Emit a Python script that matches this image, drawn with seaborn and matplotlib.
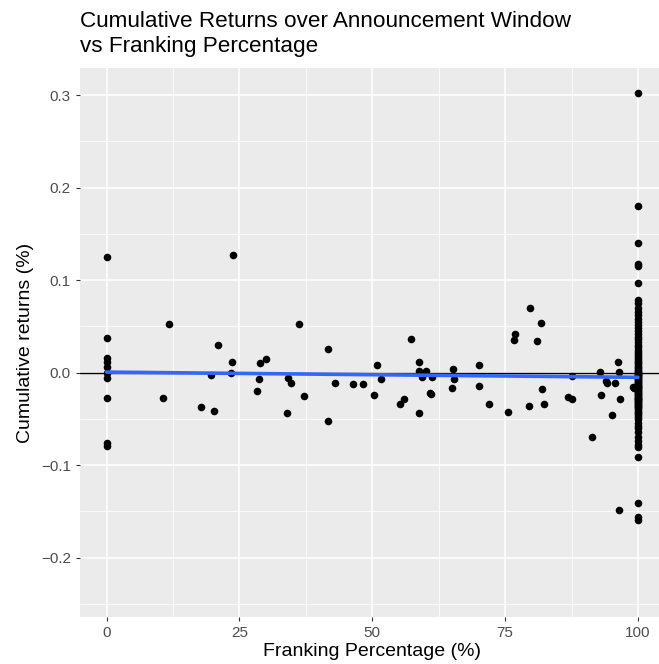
import numpy as np
import pandas as pd
import matplotlib
matplotlib.use("Agg")
import matplotlib.pyplot as plt
from matplotlib.ticker import MultipleLocator, FuncFormatter
import seaborn as sns

# Franking percentage of each announcement and its cumulative return
zero_franked_returns = [0.1254, 0.037, 0.0155, 0.011, 0.0065, 0.0, -0.006,
                        -0.0277, -0.0757, -0.079]

partial_franking = [10.6, 11.7, 17.7, 19.7, 20.3, 20.9, 23.4, 23.6, 23.7, 28.3,
                    28.7, 28.8, 30.0, 34.0, 34.1, 34.7, 36.3, 37.2, 41.6, 41.7,
                    43.0, 46.3, 48.2, 50.4, 50.8, 51.7, 55.3, 55.9, 57.2, 58.8,
                    58.8, 58.8, 59.3, 60.2, 60.8, 61.0, 61.3, 65.0, 65.2, 65.3,
                    70.1, 70.1, 72.0, 75.6, 76.6, 76.8, 79.5, 79.6, 81.0, 81.8,
                    81.9, 82.4, 86.9, 87.6, 87.6, 91.3, 92.8, 93.0, 94.0, 94.2,
                    95.2, 95.7, 96.2, 96.4, 96.4, 96.7, 99.1, 99.3]
partial_returns = [-0.027, 0.0527, -0.037, -0.003, -0.041, 0.030, 0.000, 0.0116,
                   0.127, -0.0198, -0.0068, 0.0105, 0.0145, -0.044, -0.0057,
                   -0.0115, 0.0527, -0.0255, -0.052, 0.0256, -0.0111, -0.0126,
                   -0.0122, -0.024, 0.0083, -0.0065, -0.034, -0.0284, 0.0364,
                   -0.0436, 0.0116, 0.0015, -0.0046, 0.0015, -0.0216, -0.0234,
                   -0.0046, -0.0165, 0.0043, -0.0068, 0.0087, -0.0147, -0.034,
                   -0.042, 0.0354, 0.042, -0.036, 0.0703, 0.0346, 0.0534, -0.018,
                   -0.0335, -0.0266, -0.0288, -0.0036, -0.0695, 0.001, -0.024,
                   -0.0086, -0.0111, -0.0457, -0.0108, 0.0116, 0.0008, -0.149,
                   -0.029, -0.016, -0.0165]

fully_franked_returns = [0.302, 0.1806, 0.140, 0.1175, 0.1157, 0.0966, 0.0786,
                         0.075, 0.070, 0.066, 0.062, 0.058, 0.055, 0.051, 0.048,
                         0.045, 0.042, 0.039, 0.036, 0.033, 0.030, 0.028, 0.025,
                         0.022, 0.020, 0.018, 0.016, 0.014, 0.012, 0.010, 0.008,
                         0.006, 0.005, 0.003, 0.002, 0.001, 0.0, -0.001, -0.002,
                         -0.003, -0.004, -0.005, -0.006, -0.007, -0.008, -0.009,
                         -0.010, -0.011, -0.012, -0.013, -0.014, -0.015, -0.016,
                         -0.017, -0.018, -0.019, -0.020, -0.021, -0.022, -0.023,
                         -0.024, -0.025, -0.026, -0.027, -0.028, -0.029, -0.030,
                         -0.031, -0.032, -0.033, -0.034, -0.035, -0.036, -0.037,
                         -0.038, -0.040, -0.042, -0.044, -0.046, -0.048, -0.050,
                         -0.054, -0.058, -0.060, -0.064, -0.070, -0.074, -0.078,
                         -0.080, -0.091, -0.141, -0.1557, -0.159]

x_ticks = [0, 25, 50, 75, 100]
y_ticks = [-0.2, -0.1, 0.0, 0.1, 0.2, 0.3]

franking = ([0.0] * len(zero_franked_returns) + partial_franking
            + [100.0] * len(fully_franked_returns))
returns = zero_franked_returns + partial_returns + fully_franked_returns
df = pd.DataFrame({"franking": franking, "returns": returns})

sns.set_theme(style="darkgrid")
plt.rcParams["font.family"] = ["Liberation Sans", "DejaVu Sans"]

W, H = 659, 664
fig = plt.figure(figsize=(W / 100, H / 100), dpi=100)
left, right, top, bottom = 80, 664.5, 68.3, 616.7
ax = fig.add_axes([left / W, 1 - bottom / H, (right - left) / W, (bottom - top) / H])
ax.set_facecolor("#EBEBEB")

ax.axhline(0, color="black", lw=1.0, zorder=2)
sns.scatterplot(data=df, x="franking", y="returns", ax=ax, color="black",
                s=30, linewidth=0, zorder=3)
sns.regplot(data=df, x="franking", y="returns", ax=ax, scatter=False, ci=None,
            truncate=True, color="#3366FF", line_kws={"lw": 2.6, "zorder": 4})

ax.set_xlim(-5, 105)
ax.set_ylim(-0.2638, 0.329)
ax.set_xticks(x_ticks)
ax.set_yticks(y_ticks)
ax.xaxis.set_minor_locator(MultipleLocator(12.5))
ax.yaxis.set_minor_locator(MultipleLocator(0.05))
ax.yaxis.set_major_formatter(FuncFormatter(lambda v, p: f"{v:.1f}".replace("-", "\u2212")))

ax.grid(which="major", color="white", lw=1.1)
ax.grid(which="minor", color="white", lw=0.55)
ax.set_axisbelow(True)
for s in ax.spines.values():
    s.set_visible(False)

ax.tick_params(axis="both", which="major", length=3, width=0.8, color="#333333",
               labelcolor="#4D4D4D", labelsize=11, pad=3.6, bottom=True, left=True)
ax.tick_params(axis="both", which="minor", length=0)

ax.set_xlabel("Franking Percentage (%)", fontsize=14, color="black", labelpad=2.5)
ax.set_ylabel("Cumulative returns (%)", fontsize=14, color="black", labelpad=5)

fig.text(left / W, 1 - 27.3 / H, "Cumulative Returns over Announcement Window",
         fontsize=16.2, ha="left", va="baseline", color="black")
fig.text(left / W, 1 - 51.7 / H, "vs Franking Percentage",
         fontsize=16.2, ha="left", va="baseline", color="black")

fig.savefig("out.png", dpi=100, facecolor="white")
